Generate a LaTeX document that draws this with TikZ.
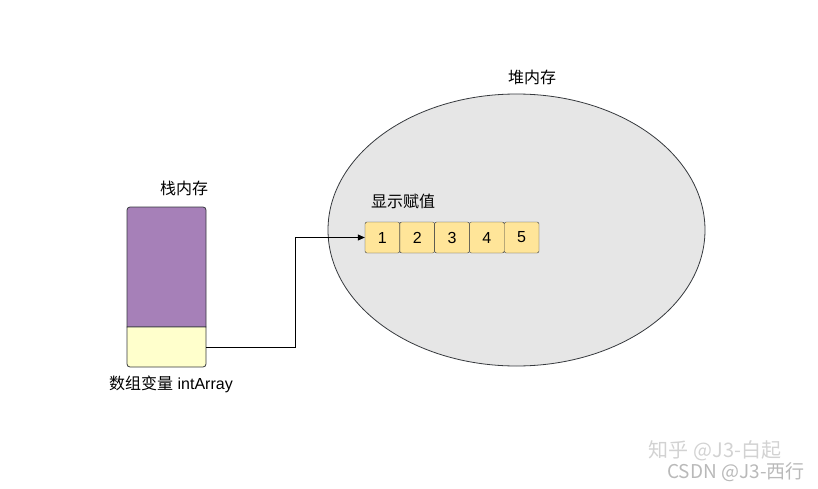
\documentclass[tikz,border=0pt]{standalone}
\usepackage{fontspec}
\setmainfont{Liberation Sans}
\newfontfamily\cjk{Noto Sans CJK SC}
\usetikzlibrary{arrows.meta,shapes.geometric}
\definecolor{stackpurple}{HTML}{A680B8}
\definecolor{varyellow}{HTML}{FFFFCC}
\definecolor{cellyellow}{HTML}{FFE599}
\definecolor{heapgray}{HTML}{E6E6E6}
\definecolor{linegray}{HTML}{36393D}
\tikzset{
	lbl/.style={font=\fontsize{16}{19}\selectfont\cjk, inner sep=0},
	cell/.style={draw=linegray, fill=cellyellow, rounded corners=2pt, minimum width=34.8pt, minimum height=31pt, inner sep=0, font=\fontsize{16}{19}\selectfont},
	wmark/.style={font=\fontsize{19}{22}\selectfont\cjk, text=gray!55, inner sep=0}
}
\begin{document}
\begin{tikzpicture}[x=1pt,y=-1pt]
				\useasboundingbox (0,0) rectangle (818,489);
				% heap
				\node[ellipse, draw=linegray, fill=heapgray, line width=0.8pt, minimum width=377pt, minimum height=272pt, inner sep=0] (heap) at (516.5,230) {};
				\node[lbl] (heaplbl) at (532,77) {堆内存};
				% stack
				\draw[fill=stackpurple, line width=0.8pt, draw=linegray] (127,327) [rounded corners=3pt] -- (127,207) -- (206,207) [sharp corners] -- (206,327) -- cycle;
				\draw[fill=varyellow, line width=0.8pt, draw=linegray] (206,327) [rounded corners=3pt] -- (206,367) -- (127,367) [sharp corners] -- (127,327) -- cycle;
				\node[minimum width=79pt, minimum height=40pt, inner sep=0] (var) at (166.5,347) {};
				\node[lbl] (stacklbl) at (184,188) {栈内存};
				\node[inner sep=0, font=\fontsize{16}{19}\selectfont] (varlbl) at (171,384) {{\cjk 数组变量} intArray};
				% array
				\node[lbl] (arrlbl) at (403,201) {显示赋值};
				\foreach \i in {1,...,5} \node[cell] (c\i) at ({347.6+34.8*\i},237.5) {\i};
				\coordinate (bend) at (295,347);
				\draw[line width=0.8pt, -{Triangle[length=7pt,width=6pt]}] (var.east) -- (bend) |- (c1.west);
				% watermark
				\node[wmark, font=\fontsize{20}{23}\selectfont\cjk, text=gray!35] (mk1) at (715,451) {知乎 @J3-白起};
				\node[wmark] (mk2) at (736,472.5) {CSDN @J3-西行};
			\end{tikzpicture}
\end{document}
